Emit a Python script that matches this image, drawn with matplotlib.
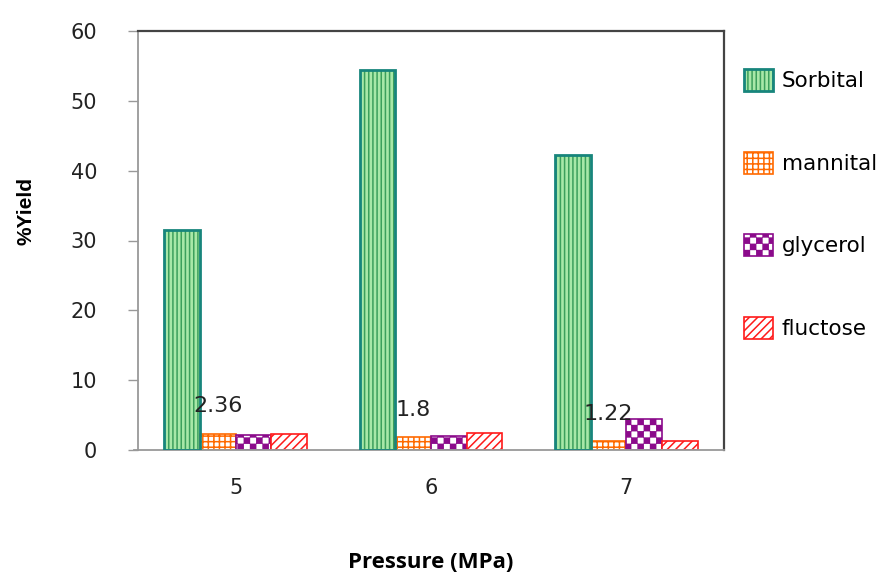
import matplotlib
matplotlib.use("Agg")
import matplotlib.pyplot as plt
import matplotlib.hatch as mhatch
from matplotlib.path import Path
import numpy as np

plt.rcParams.update({
    "font.family": ["DejaVu Sans"],
    "hatch.linewidth": 1.1,
})

# ── data ────────────────────────────────────────────────────────────────────
pressures = ["5", "6", "7"]
sorbital  = [31.5, 54.4, 42.2]
mannital  = [2.36, 1.8, 1.22]
glycerol  = [2.1, 2.0, 4.5]
fluctose  = [2.3, 2.4, 1.3]


# checkerboard fill used for glycerol (takes over the '*' hatch code)
class CheckerHatch(mhatch.HatchPatternBase):
    def __init__(self, hatch, density):
        self.n = 16 if "*" in hatch else 0
        self.num_vertices = 5 * (self.n * self.n // 2)

    def set_vertices_and_codes(self, vertices, codes):
        s = 1.0 / self.n
        shrink = 0.006
        k = 0
        for i in range(self.n):
            for j in range(self.n):
                if (i + j) % 2:
                    continue
                x0, y0 = i * s + shrink, j * s + shrink
                x1, y1 = (i + 1) * s - shrink, (j + 1) * s - shrink
                vertices[k:k + 5] = [(x0, y0), (x1, y0), (x1, y1), (x0, y1), (x0, y0)]
                codes[k:k + 5] = [Path.MOVETO, Path.LINETO, Path.LINETO,
                                  Path.LINETO, Path.CLOSEPOLY]
                k += 5


mhatch._hatch_types = [t for t in mhatch._hatch_types
                       if t is not mhatch.Stars] + [CheckerHatch]

fig = plt.figure(figsize=(8.84, 5.75), dpi=100)
ax = fig.add_axes([138 / 884, 1 - 450 / 575, 586 / 884, 419 / 575])

x = np.arange(len(pressures))
w = 0.183

# sorbital: striped green fill, then a teal outline on top
b_sorb = ax.bar(x - 1.5 * w, sorbital, w, facecolor="#a8e8a8",
                edgecolor="#3c9f5c", hatch="||||", linewidth=0, zorder=2)
b_sorb_edge = ax.bar(x - 1.5 * w, sorbital, w, fill=False,
                     edgecolor="#17857c", linewidth=2.0, zorder=3)
b_mann = ax.bar(x - 0.5 * w, mannital, w, facecolor="white",
                edgecolor="#ff6a00", hatch="+++", linewidth=1.2, zorder=2)
b_glyc = ax.bar(x + 0.5 * w, glycerol, w, facecolor="white",
                edgecolor="#8b0a8b", hatch="*", linewidth=1.2, zorder=2)
b_fluc = ax.bar(x + 1.5 * w, fluctose, w, facecolor="white",
                edgecolor="#ff1a1a", hatch="////", linewidth=1.2, zorder=2)

# value labels above the mannital bars
for xi, v in zip(x, mannital):
    ax.text(xi - 0.5 * w, v + 3.9, f"{v:g}", ha="center", va="center",
            fontsize=16, color="#222222", zorder=4)

ax.set_xlim(-0.5, 2.5)
ax.set_ylim(0, 60)
ax.set_yticks(range(0, 61, 10))
ax.set_xticks(x)
ax.set_xticklabels(pressures)

ax.tick_params(axis="y", length=7, width=1, color="#999999", pad=22.5,
               labelsize=15, labelcolor="#222222")
ax.tick_params(axis="x", length=0, pad=20, labelsize=15, labelcolor="#222222")

for side in ["left", "bottom"]:
    ax.spines[side].set_color("#999999")
    ax.spines[side].set_linewidth(1.3)
for side in ["top", "right"]:
    ax.spines[side].set_color("#444444")
    ax.spines[side].set_linewidth(1.6)
ax.spines["bottom"].set_bounds(-0.52, 2.5)

ax.set_ylabel("%Yield", fontsize=15, fontweight="bold",
              family=["Liberation Sans", "DejaVu Sans"])
ax.yaxis.set_label_coords(-0.175, 0.57)
ax.set_xlabel("Pressure (MPa)", fontsize=16, fontweight="bold",
              family=["Open Sans", "DejaVu Sans"])
ax.xaxis.set_label_coords(0.5, -0.243)

fig.legend([(b_sorb[0], b_sorb_edge[0]), b_mann[0], b_glyc[0], b_fluc[0]],
           ["Sorbital", "mannital", "glycerol", "fluctose"],
           loc="upper left", bbox_to_anchor=(744 / 884, 1 - 69 / 575),
           frameon=False, fontsize=15.5, handlelength=1.35, handleheight=1.2,
           handletextpad=0.4, labelspacing=2.8, borderpad=0,
           borderaxespad=0)

fig.savefig("out.png", dpi=100)
